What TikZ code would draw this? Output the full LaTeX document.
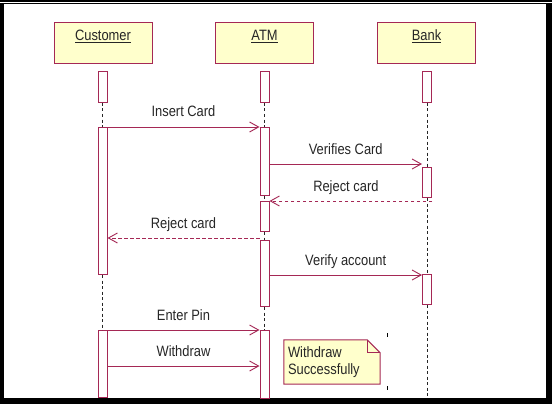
\documentclass[tikz,border=0pt]{standalone}
\usepackage{fontspec}
\setmainfont{Liberation Sans}[FakeStretch=0.86]
\usetikzlibrary{arrows.meta,backgrounds}
\definecolor{umlline}{RGB}{165,40,85}
\definecolor{umlnote}{RGB}{255,255,204}

\newcommand\actbar[4]{% name, x, top, bottom
  \node[act, minimum height={(#4-#3)*1pt}] (#1) at (#2,#3) {};}

\begin{document}
\begin{tikzpicture}[x=1pt, y=-1pt,
    font=\fontsize{15}{17}\selectfont,
    obj/.style={draw=umlline, fill=umlnote, line width=1pt, inner sep=0pt,
      minimum width=98pt, text height=17.5pt, text depth=23.5pt, text=black!85},
    act/.style={draw=umlline, fill=white, line width=1pt, inner sep=0pt,
      minimum width=9pt, anchor=north},
    life/.style={black!85, line width=.8pt, dash pattern=on 3pt off 2.5pt},
    msg/.style={umlline, line width=.9pt,
      -{Straight Barb[length=9pt, width=10pt, line width=.9pt]}},
    reply/.style={msg, dash pattern=on 3.5pt off 2.5pt},
    lbl/.style={midway, anchor=base, yshift=10pt, text=black!85},
    note/.style={inner sep=4pt, text width=88pt, align=left,
      minimum height=44pt, text=black!85},
  ]
  \useasboundingbox (0,0) rectangle (552,404);
  \begin{scope}[on background layer]
    \fill[black] (0,0) rectangle (552,404);
    \fill[white] (4,4) rectangle (546,398);
    \draw[white, line width=.7pt] (0,2) -- (552,2);
  \end{scope}
  % objects
  \node[obj] (cu) at (103,43.5) {\underline{Customer}};
  \node[obj] (atm) at (264.5,43.5) {\underline{ATM}};
  \node[obj] (bk) at (426.5,43.5) {\underline{Bank}};
  % activations
  \actbar{c1}{102.5}{71}{102}
  \actbar{c2}{102.5}{127}{274}
  \actbar{c3}{102.5}{330}{397}
  \actbar{a1}{264.5}{71}{102}
  \actbar{a2}{264.5}{127}{195}
  \actbar{a3}{264.5}{201}{231}
  \actbar{a4}{264.5}{240}{306}
  \actbar{a5}{264.5}{330}{398}
  \actbar{b1}{427}{71}{102}
  \actbar{b2}{427}{167}{197}
  \actbar{b3}{427}{274}{304}
  % lifelines
  \coordinate (bend) at (427,398);
  \foreach \p/\q in {c1/c2, c2/c3, a1/a2, a2/a3, a3/a4, a4/a5, b1/b2, b2/b3}
    \draw[life] (\p.south) -- (\q.north);
  \draw[life] (b3.south) -- (bend);
  % messages
  \foreach \n/\y in {m1/127, m2/164, m3/201, m4/238, m5/275, m6/330, m7/366}
    \coordinate (\n) at (0,\y);
  \draw[msg] (c2.east |- m1) -- node[lbl] {Insert Card} (a2.west |- m1);
  \draw[msg] (a2.east |- m2) -- node[lbl] {Verifies Card} (b2.west |- m2);
  \draw[reply] (b2.east |- m3) -- node[lbl, pos=.53] {Reject card} (a3.east |- m3);
  \draw[reply] (a4.west |- m4) -- node[lbl] {Reject card} (c2.east |- m4);
  \draw[msg] (a4.east |- m5) -- node[lbl] {Verify account} (b3.west |- m5);
  \draw[msg] (c3.east |- m6) -- node[lbl] {Enter Pin} (a5.west |- m6);
  \draw[msg] (c3.east |- m7) -- node[lbl] {Withdraw} (a5.west |- m7);
  % note
  \node[note] (nt) at (332,362) {Withdraw\\Successfully};
  \begin{scope}[on background layer]
    \draw[umlline, fill=umlnote, line width=1pt] (nt.north west)
      -- ([xshift=-13pt]nt.north east) -- ([yshift=-13pt]nt.north east)
      -- (nt.south east) -- (nt.south west) -- cycle;
  \end{scope}
  \draw[umlline, line width=1pt] ([xshift=-13pt]nt.north east)
    -- ([xshift=-13pt, yshift=-13pt]nt.north east) -- ([yshift=-13pt]nt.north east);
  \draw[black, line width=1pt] (387,333) -- (387,337) (387,386) -- (387,390);
\end{tikzpicture}
\end{document}
